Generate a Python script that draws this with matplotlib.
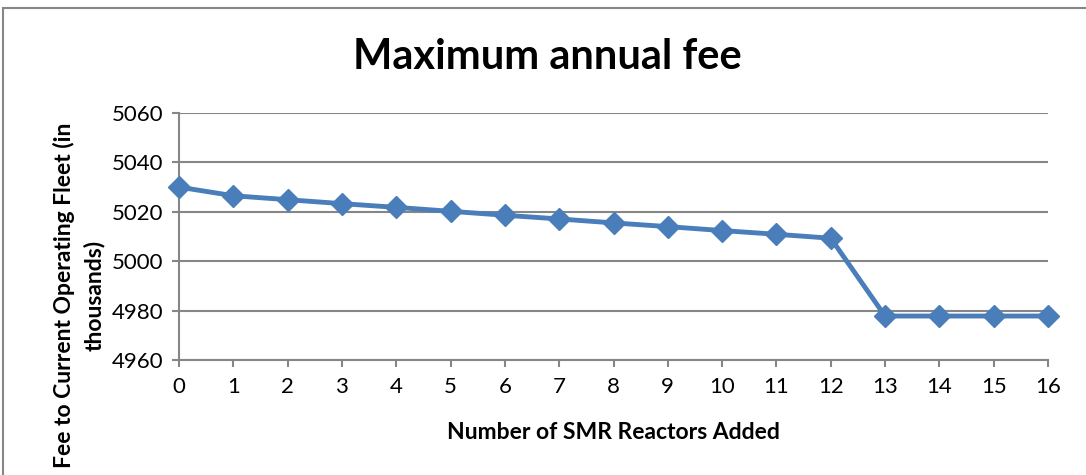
import numpy as np
import matplotlib.pyplot as plt
from matplotlib.patches import Rectangle

plt.rcParams['font.family'] = ['Lato', 'DejaVu Sans']

reactors = list(range(17))
fee = [5030.0, 5026.5, 5024.9, 5023.3, 5021.8, 5020.2, 5018.6, 5017.1, 5015.5,
       5014.0, 5012.4, 5010.9, 5009.3, 4977.8, 4977.8, 4977.8, 4977.8]
yticks = [4960, 4980, 5000, 5020, 5040, 5060]

fig = plt.figure(figsize=(10.86, 4.75), dpi=100)
ax = fig.add_axes([179/1086, 1 - 360/475, (1048 - 179)/1086, (360 - 113)/475])

# chart border like the Excel chart area
fig.patches.append(Rectangle((3/1086, -0.1), 1.2, 1 - 8/475 + 0.1, transform=fig.transFigure,
                             fill=False, edgecolor='#868686', linewidth=1.5))

ax.plot(reactors, fee, color='#4a7ebb', linewidth=3.5, marker='D', markersize=11,
        markeredgecolor='#4a7ebb', clip_on=False, zorder=3)

ax.set_xlim(0, 16)
ax.set_ylim(4960, 5060)
ax.set_xticks(reactors)
ax.set_yticks(yticks)
ax.tick_params(axis='both', labelsize=16, colors='#868686', labelcolor='black', width=1.5, length=5)
ax.tick_params(axis='x', pad=7)
ax.tick_params(axis='y', pad=6)
ax.grid(axis='y', color='#868686', linewidth=1.5)
ax.set_axisbelow(True)
for s in ['top', 'right']:
    ax.spines[s].set_visible(False)
for s in ['left', 'bottom']:
    ax.spines[s].set_color('#868686')
    ax.spines[s].set_linewidth(1.5)

ax.set_xlabel('Number of SMR Reactors Added', fontsize=16.5, fontweight='bold', labelpad=18)
fig.text(547/1086, 1 - 57/475, 'Maximum annual fee', fontsize=30, fontweight='bold',
         ha='center', va='center')
fig.text(79/1086, 1 - 295/475, 'Fee to Current Operating Fleet (in\nthousands)', fontsize=16.5,
         fontweight='bold', rotation=90, ha='center', va='center', multialignment='center',
         linespacing=1.45)

fig.savefig('out.png', dpi=100)
